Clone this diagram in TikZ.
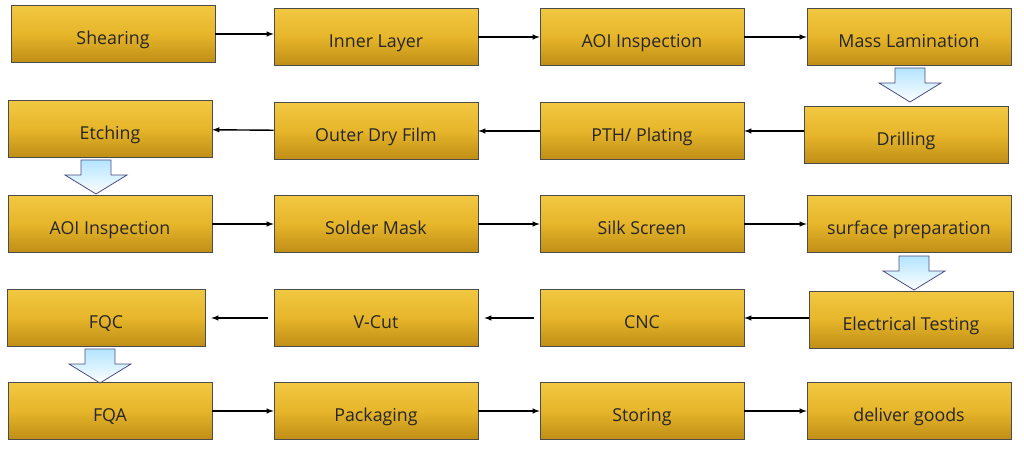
\documentclass[tikz,border=0pt]{standalone}
\usepackage{fontspec}
\setmainfont{Open Sans}
\definecolor{gtop}{HTML}{F2C842}
\definecolor{gmid}{HTML}{E6B52A}
\definecolor{gbot}{HTML}{BF8E16}
\begin{document}
\begin{tikzpicture}[x=1pt,y=-1pt,
  box/.style={draw=black!70,line width=0.6pt,minimum width=204pt,minimum height=57pt,
    top color=gtop,bottom color=gbot,middle color=gmid,font=\fontsize{17.8}{20}\selectfont,text=black!85,
    inner sep=0pt,text depth=0pt},
  con/.style={line width=1.4pt,-latex}]
\useasboundingbox (0,0) rectangle (1024,454);
\def\xa{110}\def\xb{376}\def\xc{642}\def\xd{909}
\node[box] (a1) at (113,34) {\raisebox{-8pt}{Shearing}};
\node[box] (a2) at (\xb,37) {\raisebox{-8pt}{Inner Layer}};
\node[box] (a3) at (\xc,37) {\raisebox{-8pt}{AOI Inspection}};
\node[box] (a4) at (\xd,37) {\raisebox{-8pt}{Mass Lamination}};
\node[box] (b1) at (\xa,129) {\raisebox{-8pt}{Etching}};
\node[box] (b2) at (\xb,131) {\raisebox{-8pt}{Outer Dry Film}};
\node[box] (b3) at (\xc,131) {\raisebox{-8pt}{PTH/ Plating}};
\node[box] (b4) at (906,135) {\raisebox{-8pt}{Drilling}};
\node[box] (c1) at (\xa,224) {\raisebox{-8pt}{AOI Inspection}};
\node[box] (c2) at (\xb,224) {\raisebox{-8pt}{Solder Mask}};
\node[box] (c3) at (\xc,224) {\raisebox{-8pt}{Silk Screen}};
\node[box] (c4) at (\xd,224) {\raisebox{-8pt}{surface preparation}};
\node[box,minimum width=198pt] (d1) at (106,318) {\raisebox{-8pt}{FQC}};
\node[box] (d2) at (\xb,318) {\raisebox{-8pt}{V-Cut}};
\node[box] (d3) at (\xc,318) {\raisebox{-8pt}{CNC}};
\node[box] (d4) at (911,320) {\raisebox{-8pt}{Electrical Testing}};
\node[box] (e1) at (\xa,411) {\raisebox{-8pt}{FQA}};
\node[box] (e2) at (\xb,411) {\raisebox{-8pt}{Packaging}};
\node[box] (e3) at (\xc,411) {\raisebox{-8pt}{Storing}};
\node[box] (e4) at (\xd,411) {\raisebox{-8pt}{deliver goods}};
\draw[con] (a1.east) -- (a2.west |- a1.east);
\draw[con] (a2) -- (a3);
\draw[con] (a3) -- (a4);
\draw[con] (b4.west |- b3.east) -- (b3);
\draw[con] (b3) -- (b2);
\draw[con] (b2) -- (b1);
\draw[con] (c1) -- (c2);
\draw[con] (c2) -- (c3);
\draw[con] (c3) -- (c4);
\draw[con] (d4.west |- d3.east) -- (d3);
\draw[con] ([xshift=-6pt]d3.west) -- ([xshift=6pt]d2.east);
\draw[con] ([xshift=-6pt]d2.west) -- ([xshift=6pt]d1.east);
\draw[con] (e1) -- (e2);
\draw[con] (e2) -- (e3);
\draw[con] (e3) -- (e4);
\tikzset{down/.pic={\draw[draw=blue!30!black!70,line width=0.8pt,top color=blue!35!cyan!30,bottom color=white]
  (-15,0) -- (15,0) -- (15,15) -- (31,15) -- (0,34) -- (-31,15) -- (-15,15) -- cycle;}}
\pic at (910,68) {down};
\pic at (96,160) {down};
\pic at (914,256) {down};
\pic at (100,349) {down};
\end{tikzpicture}
\end{document}
